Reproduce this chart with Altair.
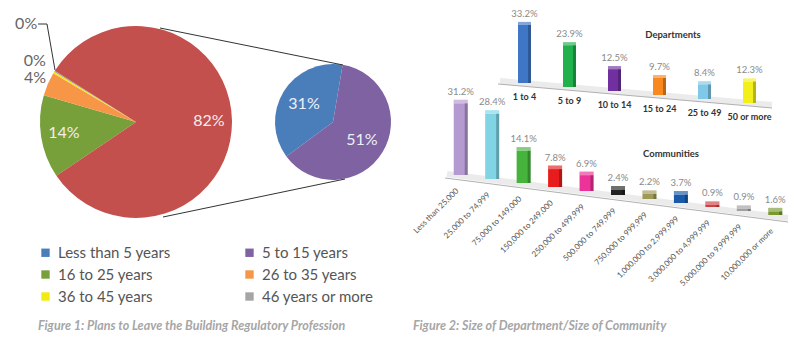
import altair as alt
import pandas as pd

# ---------------- data ----------------
age_groups = ["Less than 5 years", "5 to 15 years", "16 to 25 years",
              "26 to 35 years", "36 to 45 years", "46 years or more"]
combined_group = "Less than 15 years"

main_pie_groups = ["16 to 25 years", "26 to 35 years", "36 to 45 years",
                   "46 years or more", combined_group]
main_pie_values = [14, 4, 0.3, 0.2, 82]

sub_pie_groups = ["Less than 5 years", "5 to 15 years"]
sub_pie_values = [31, 51]

dept_sizes = ["1 to 4", "5 to 9", "10 to 14", "15 to 24", "25 to 49", "50 or more"]
dept_values = [33.2, 23.9, 12.5, 9.7, 8.4, 12.3]

community_sizes = ["Less than 25,000", "25,000 to 74,999", "75,000 to 149,000",
                   "150,000 to 249,000", "250,000 to 499,999", "500,000 to 749,999",
                   "750,000 to 999,999", "1,000,000 to 2,999,999",
                   "3,000,000 to 4,999,999", "5,000,000 to 9,999,999",
                   "10,000,000 or more"]
community_values = [31.2, 28.4, 14.1, 7.8, 6.9, 2.4, 2.2, 3.7, 0.9, 0.9, 1.6]

fig1_caption = "Figure 1: Plans to Leave the Building Regulatory Profession"
fig2_caption = "Figure 2: Size of Department/Size of Community"
dept_title = "Departments"
comm_title = "Communities"

# ---------------- styles ----------------
FONT = "Lato"
pie_colors = ["#4a7ebb", "#7e62a1", "#77a03a", "#f79646", "#f2ea10", "#a5a5a5", "#c4504d"]
dept_colors = ["#3f76c6", "#22b04c", "#7030a0", "#f8881f", "#80c8e8", "#f3ef1a"]
comm_colors = ["#b49ad0", "#80d4e4", "#46b33c", "#e81c1c", "#ec3399", "#222222",
               "#a09a58", "#1a5aa8", "#d04040", "#a0a0a0", "#7a9a2f"]

pie_color_scale = alt.Scale(domain=age_groups + [combined_group], range=pie_colors)

# ---------------- main pie ----------------
main_df = pd.DataFrame({"group": main_pie_groups, "v": main_pie_values,
                        "k": list(range(len(main_pie_groups)))})
MCX, MCY, MR = 136, 122, 96
main_theta = alt.Theta("v:Q", stack=True,
                       scale=alt.Scale(range=[4.119, 10.402]))
main_base = alt.Chart(main_df).transform_calculate(
    inner="(datum.k == 0 || datum.k == 4) ? round(datum.v) + '%' : ''",
    orange="datum.k == 1 ? round(datum.v) + '%' : ''",
    yel="datum.k == 2 ? round(datum.v) + '%' : ''",
    gry="datum.k == 3 ? round(datum.v) + '%' : ''",
).encode(theta=main_theta, order=alt.Order("k:Q"),
         x=alt.value(MCX), y=alt.value(MCY))

main_arc = main_base.mark_arc(radius=MR, stroke=None).encode(
    color=alt.Color("group:N", scale=pie_color_scale,
                    legend=alt.Legend(values=age_groups, orient="none", direction="horizontal",
                                      legendX=38, legendY=245, columns=2,
                                      title=None, symbolType="square",
                                      symbolSize=70, symbolStrokeWidth=0,
                                      labelFontSize=15, labelFont=FONT,
                                      labelColor="#555555", labelOffset=5,
                                      columnPadding=71, rowPadding=6)))
txt_kw = dict(font=FONT, fontSize=16, align="center", baseline="middle")
main_inner = main_base.mark_text(radius=73, color="#f4ecec", **txt_kw).encode(text="inner:N")
main_orange = main_base.mark_text(radius=110, color="#666666", **txt_kw).encode(text="orange:N")
main_yel = main_base.mark_text(radius=118, color="#666666", **txt_kw).encode(text="yel:N")
main_gry = main_base.mark_text(radius=147, thetaOffset=0.17, color="#666666", **txt_kw).encode(text="gry:N")
main_layer = alt.layer(main_arc, main_inner, main_orange, main_yel, main_gry)

# ---------------- secondary pie ----------------
sub_df = pd.DataFrame({"group": sub_pie_groups, "v": sub_pie_values,
                       "k": list(range(len(sub_pie_groups)))})
SCX, SCY, SR = 333, 122, 58
sub_base = alt.Chart(sub_df).transform_calculate(
    lab="round(datum.v) + '%'"
).encode(theta=alt.Theta("v:Q", stack=True, scale=alt.Scale(range=[4.075, 10.358])),
         order=alt.Order("k:Q"), x=alt.value(SCX), y=alt.value(SCY))
sub_arc = sub_base.mark_arc(radius=SR, stroke=None).encode(
    color=alt.Color("group:N", scale=pie_color_scale, legend=None))
sub_txt = sub_base.mark_text(radius=34, color="#eef0f8", **txt_kw).encode(text="lab:N")
sub_layer = alt.layer(sub_arc, sub_txt)

# ---------------- connectors / decorations ----------------
one = alt.Data(values=[{"a": 1}])
def seg(x1, y1, x2, y2, color="#333333", w=1.0, op=1.0):
    return alt.Chart(one).mark_rule(color=color, strokeWidth=w, opacity=op).encode(
        x=alt.value(x1), y=alt.value(y1), x2=alt.value(x2), y2=alt.value(y2))

decor = [
    seg(160, 28, 343, 65), seg(163, 217, 345, 179),
    seg(38, 24, 47, 24), seg(47, 24, 55, 70),
    # floor shadows and edges of the 3-D bar panels
    seg(500, 81, 772, 105, color="#dddddd", w=6, op=0.6),
    seg(498, 84, 772, 108, color="#b0b0b0"),
    seg(447, 174, 788, 218, color="#dddddd", w=6, op=0.6),
    seg(445, 178, 788, 222, color="#b0b0b0"),
]

def caption(text, x, y, size=12.5, color="#a6a6a6", weight="bold", style="italic", align="left"):
    return alt.Chart(one).mark_text(text=text, font=FONT, fontSize=size, color=color,
                                    fontWeight=weight, fontStyle=style, align=align,
                                    baseline="middle").encode(x=alt.value(x), y=alt.value(y))

texts = [
    caption(fig1_caption, 38, 326),
    caption(fig2_caption, 413, 326),
    caption(dept_title, 673, 35, size=9.5, color="#333333", style="normal", align="center"),
    caption(comm_title, 671, 154, size=9.5, color="#333333", style="normal", align="center"),
]

# ---------------- 3-D bar panel helper ----------------
def bar_panel(df, cats, colors, xrange, ydomain, yrange, step, cap, width, side_off,
              cat_text_kw):
    xe = alt.X("size:N", scale=alt.Scale(domain=cats, range=xrange,
                                         paddingInner=0, paddingOuter=0), axis=None)
    ys = alt.Scale(domain=ydomain, range=yrange, nice=False, zero=False)
    base = alt.Chart(df).transform_window(i="row_number()").transform_calculate(
        base=f"-(datum.i - 1) * {step}",
        top="datum.base + datum.pct",
        captop=f"datum.base + datum.pct + {cap}",
        lab="format(datum.pct, '.1f') + '%'",
    )
    col = alt.Color("size:N", scale=alt.Scale(domain=cats, range=colors), legend=None)
    body = base.mark_bar(size=width).encode(
        x=xe, y=alt.Y("top:Q", scale=ys, axis=None), y2="base:Q", color=col)
    capf = base.mark_bar(size=width).encode(
        x=xe, y=alt.Y("captop:Q", scale=ys, axis=None), y2="top:Q", color=col)
    caplight = base.mark_bar(size=width, color="white", opacity=0.35).encode(
        x=xe, y=alt.Y("captop:Q", scale=ys, axis=None), y2="top:Q")
    side = base.mark_bar(size=3, color="black", opacity=0.25, xOffset=side_off).encode(
        x=xe, y=alt.Y("top:Q", scale=ys, axis=None), y2="base:Q")
    val = base.mark_text(font=FONT, fontSize=9.5, color="#8a8a8a", baseline="bottom",
                         yOffset=-3).encode(
        x=xe, y=alt.Y("captop:Q", scale=ys, axis=None), text="lab:N")
    cat = base.mark_text(font=FONT, **cat_text_kw).encode(
        x=xe, y=alt.Y("base:Q", scale=ys, axis=None), text="size:N")
    return alt.layer(body, capf, caplight, side, val, cat)

dept_df = pd.DataFrame({"size": dept_sizes, "pct": dept_values})
dept_layer = bar_panel(dept_df, dept_sizes, dept_colors, [502, 772], [0, 40], [83, 13],
                       2.2857, 1.7, 13, 5,
                       dict(fontSize=9, fontWeight="bold", color="#333333",
                            baseline="middle", yOffset=14))

comm_df = pd.DataFrame({"size": community_sizes, "pct": community_values})
comm_layer = bar_panel(comm_df, community_sizes, comm_colors, [445, 791], [0, 35], [175, 94.5],
                       1.739, 1.5, 14, 5.5,
                       dict(fontSize=8, color="#555555", angle=315, align="right",
                            baseline="middle", xOffset=-3, yOffset=15))

chart = alt.layer(
    *decor[4:], main_layer, sub_layer, dept_layer, comm_layer, *decor[:4], *texts
).resolve_scale(
    x="independent", y="independent", color="independent", theta="independent"
).properties(
    width=800, height=346, padding=0, autosize=alt.AutoSizeParams(type="none"),
    background="white"
).configure_view(stroke=None)

chart.save("out.html", embed_options={"renderer": "svg", "actions": False})
